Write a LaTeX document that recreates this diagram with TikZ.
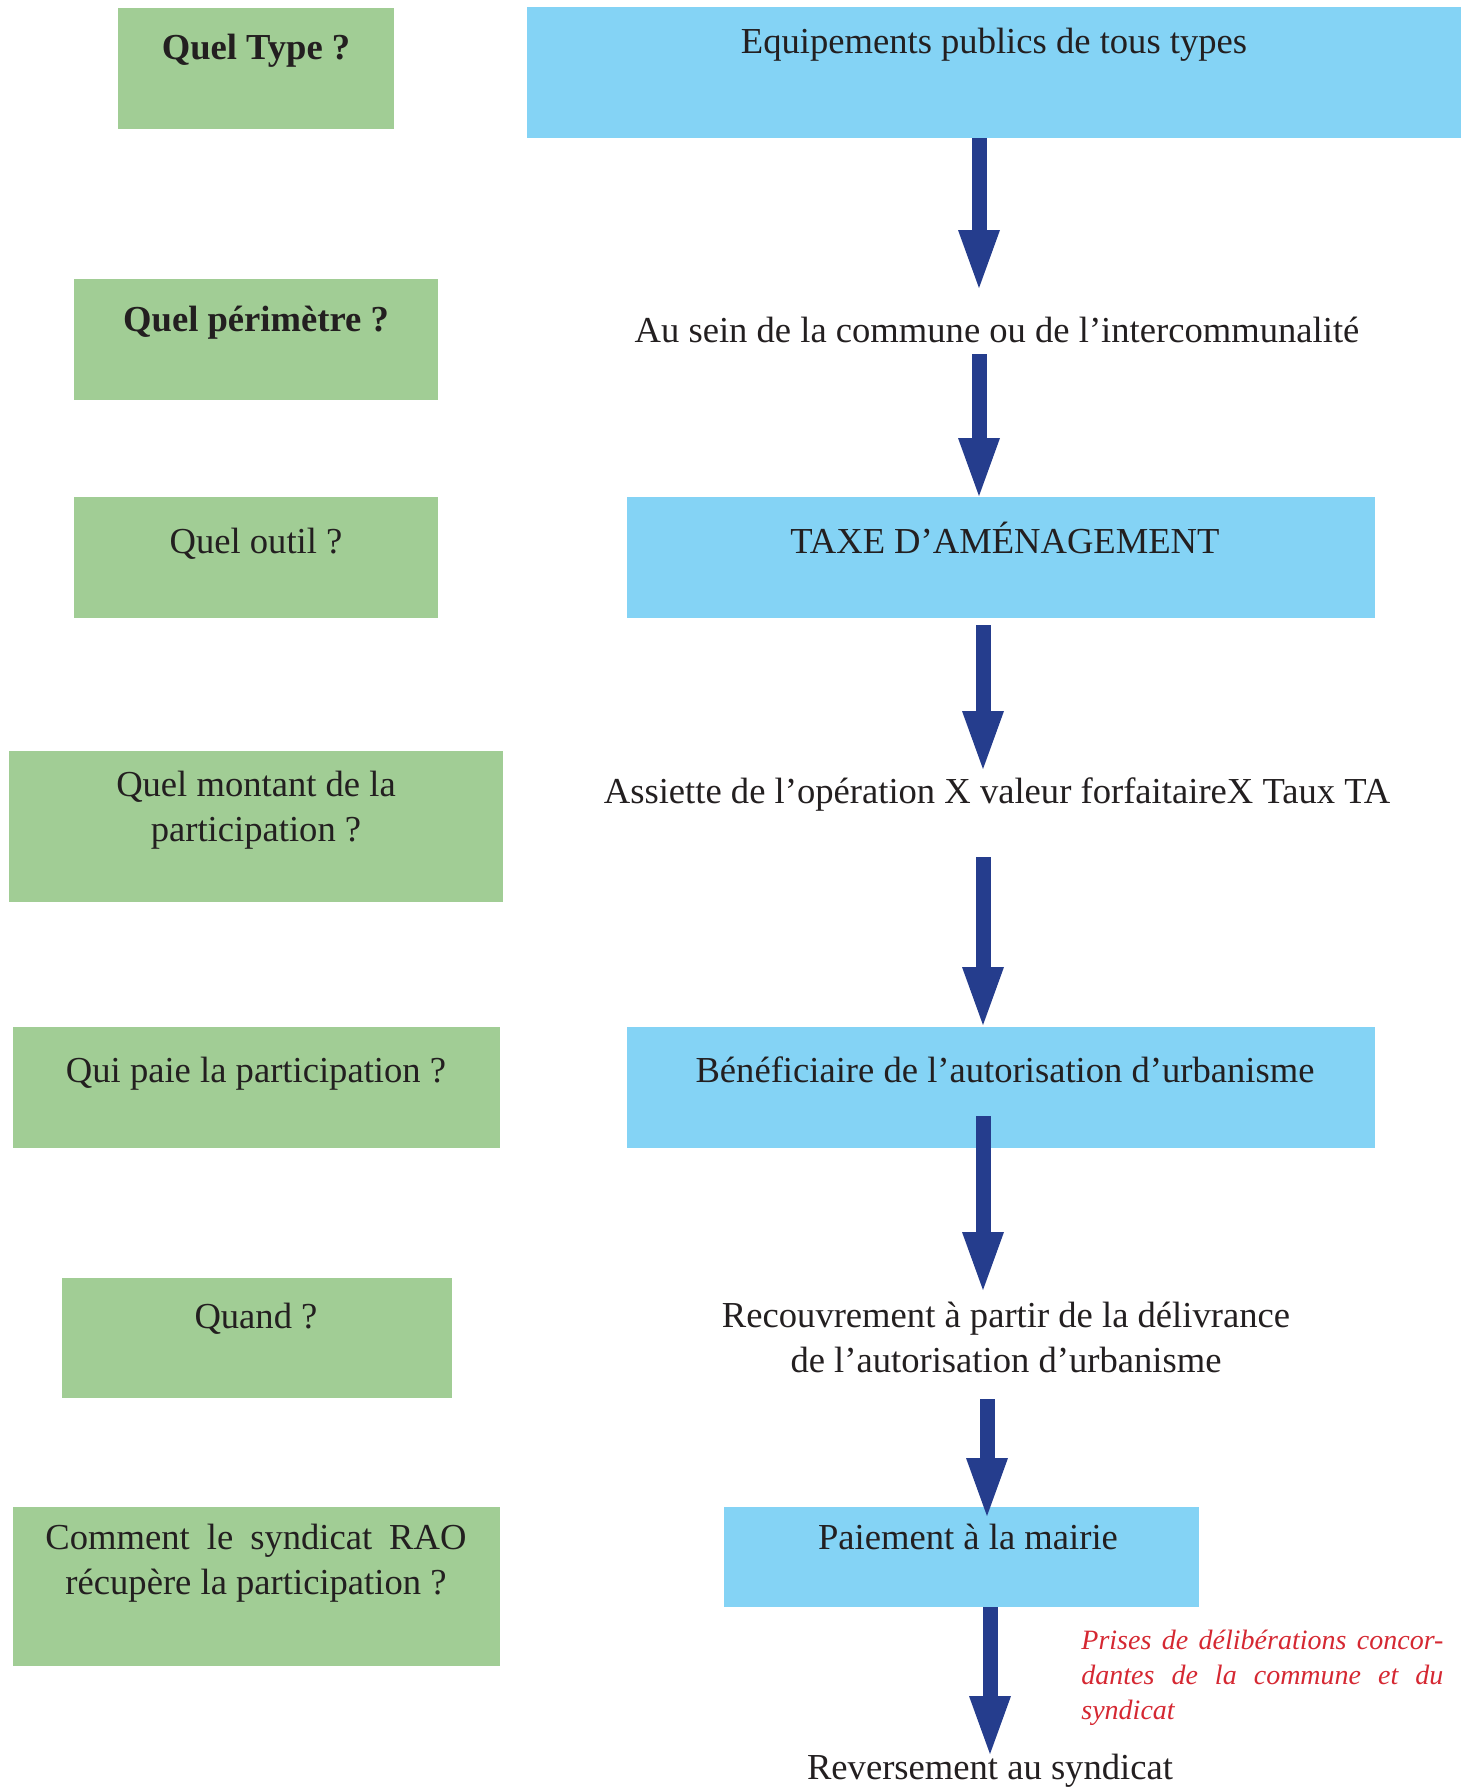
\documentclass[tikz,border=0pt]{standalone}
\usepackage{fontspec}
\setmainfont{Liberation Serif}
\usetikzlibrary{arrows.meta}
\definecolor{gfill}{RGB}{161,205,149}
\definecolor{bfill}{RGB}{132,211,245}
\definecolor{arrblue}{RGB}{37,61,141}
\definecolor{redtxt}{RGB}{213,40,50}
\definecolor{ink}{RGB}{35,31,32}
\tikzset{
  gbox/.style={fill=gfill, draw=none, inner sep=0pt, outer sep=0pt},
  bbox/.style={fill=bfill, draw=none, inner sep=0pt, outer sep=0pt},
  txt/.style={inner sep=0pt, font=\fontsize{18.3}{22.5}\selectfont, text=ink, anchor=base, align=center},
  note/.style={inner sep=0pt, font=\fontsize{14}{17.5}\selectfont\itshape, text=redtxt, anchor=base west, align=left},
  arr/.style={draw=arrblue, line width=7.5pt, -{Triangle[width=21pt,length=29pt,line width=0pt]}}
}
\begin{document}
\begin{tikzpicture}[x=0.5pt,y=-0.5pt]
\useasboundingbox (0,0) rectangle (1461,1789);
% boxes
\node[gbox, minimum width=138pt, minimum height=60.5pt] (g1) at (256,68.5) {};
\node[bbox, minimum width=467pt, minimum height=65.5pt] (b1) at (994,72.5) {};
\node[gbox, minimum width=182pt, minimum height=60.5pt] (g2) at (256,339.5) {};
\node[gbox, minimum width=182pt, minimum height=60.5pt] (g3) at (256,557.5) {};
\node[bbox, minimum width=374pt, minimum height=60.5pt] (b3) at (1001,557.5) {};
\node[gbox, minimum width=247pt, minimum height=75.5pt] (g4) at (256,826.5) {};
\node[gbox, minimum width=243.5pt, minimum height=60.5pt] (g5) at (256.5,1087.5) {};
\node[bbox, minimum width=374pt, minimum height=60.5pt] (b5) at (1001,1087.5) {};
\node[gbox, minimum width=195pt, minimum height=60pt] (g6) at (257,1338) {};
\node[gbox, minimum width=243.5pt, minimum height=79.5pt] (g7) at (256.5,1586.5) {};
\node[bbox, minimum width=237.5pt, minimum height=50pt] (b7) at (961.5,1557) {};
% texts (multi-line nodes: base = last line)
\node[txt, font=\fontsize{18.3}{22.5}\selectfont\bfseries] (q1) at (256,59) {Quel Type ?};
\node[txt] (r1) at (994,53) {Equipements publics de tous types};
\node[txt, font=\fontsize{18.3}{22.5}\selectfont\bfseries] (q2) at (256,331) {Quel périmètre ?};
\node[txt] (r2) at (997,342) {Au sein de la commune ou de l’intercommunalité};
\node[txt] (q3) at (256,553) {Quel outil ?};
\node[txt] (r3) at (1005,553) {TAXE D’AMÉNAGEMENT};
\node[txt] (q4) at (256,841) {Quel montant de la\\participation ?};
\node[txt] (r4) at (997,803) {Assiette de l’opération X valeur forfaitaireX Taux TA};
\node[txt] (q5) at (256,1082) {Qui paie la participation ?};
\node[txt] (r5) at (1005,1082) {Bénéficiaire de l’autorisation d’urbanisme};
\node[txt] (q6) at (256,1328) {Quand ?};
\node[txt] (r6) at (1006,1372) {Recouvrement à partir de la délivrance\\de l’autorisation d’urbanisme};
\node[txt] (q7) at (256,1594) {\makebox[210.5pt][s]{Comment le syndicat RAO}\\récupère la participation ?};
\node[txt] (r7) at (968,1549) {Paiement à la mairie};
\node[note] (n7) at (1081,1719) {\makebox[181pt][s]{Prises de délibérations concor-}\\\makebox[181pt][s]{dantes de la commune et du}\\syndicat};
\node[txt] (r8) at (990,1779) {Reversement au syndicat};
% arrow coordinates
\coordinate (e1) at (979,288);
\coordinate (s2) at (979,354);
\coordinate (e2) at (979,496);
\coordinate (e3) at (983,769);
\coordinate (s4) at (983,857);
\coordinate (e4) at (983,1025);
\coordinate (s5) at (983,1116);
\coordinate (e5) at (983,1290);
\coordinate (s6) at (987,1399);
\coordinate (e6) at (987,1516);
\coordinate (e7) at (990,1754);
% arrows
\draw[arr] (b1.south -| e1) -- (e1);
\draw[arr] (s2) -- (e2);
\draw[arr] ([yshift=-3.5pt]b3.south -| e3) -- (e3);
\draw[arr] (s4) -- (e4);
\draw[arr] (s5) -- (e5);
\draw[arr] (s6) -- (e6);
\draw[arr] (b7.south -| e7) -- (e7);
\end{tikzpicture}
\end{document}
